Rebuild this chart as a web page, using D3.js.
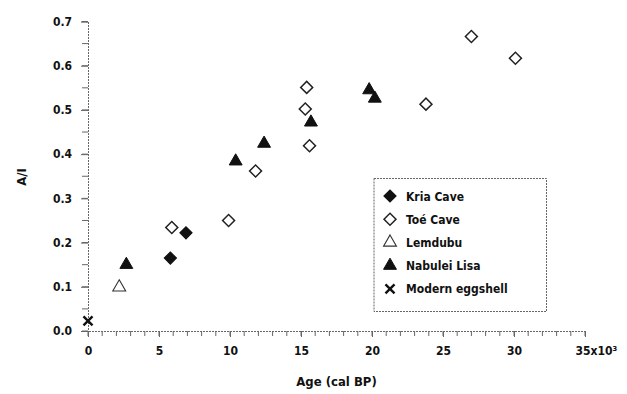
<!DOCTYPE html>
<html>
<head>
<meta charset="utf-8">
<script src="https://cdn.jsdelivr.net/npm/d3@7/dist/d3.min.js"></script>
<style>
  html, body { margin: 0; padding: 0; background: #fff; }
  svg text { font-family: "Liberation Sans Narrow", "DejaVu Sans", sans-serif; font-stretch: condensed; fill: #111; }
</style>
</head>
<body>
<svg id="chart" width="627" height="394"></svg>
<script>
// A/I ratios of eggshell against calibrated age (ka cal BP)
const kriaAge = [5.8, 6.9];
const kriaAI = [0.165, 0.222];

const toeAge = [5.9, 9.9, 11.8, 15.4, 15.3, 15.6, 27.0, 30.1, 23.8];
const toeAI = [0.234, 0.250, 0.362, 0.551, 0.502, 0.419, 0.666, 0.617, 0.513];

const lemdubuAge = [2.2];
const lemdubuAI = [0.099];

const nabuleiAge = [2.7, 10.4, 12.4, 15.7, 19.8, 20.2];
const nabuleiAI = [0.150, 0.384, 0.424, 0.472, 0.545, 0.526];

const modernAge = [0];
const modernAI = [0.023];

const seriesNames = ["Kria Cave", "Toé Cave", "Lemdubu", "Nabulei Lisa", "Modern eggshell"];
const xTickValues = [0, 5, 10, 15, 20, 25, 30, 35];
const yTickValues = [0.0, 0.1, 0.2, 0.3, 0.4, 0.5, 0.6, 0.7];

const svg = d3.select("#chart");
const x = d3.scaleLinear().domain([0, 35]).range([88, 585]);
const y = d3.scaleLinear().domain([0, 0.7]).range([331, 21.5]);

const axisColor = "#666";

// minor ticks
const g = svg.append("g");
g.selectAll(".xminor").data(d3.range(0, 36, 1)).join("line")
  .attr("x1", d => x(d)).attr("x2", d => x(d))
  .attr("y1", y(0)).attr("y2", y(0) + 5)
  .attr("stroke", axisColor).attr("stroke-width", 1);
g.selectAll(".yminor").data(d3.range(0, 0.701, 0.05)).join("line")
  .attr("x1", x(0) - 6).attr("x2", x(0))
  .attr("y1", d => y(d)).attr("y2", d => y(d))
  .attr("stroke", axisColor).attr("stroke-width", 1);

// x axis
const xAxis = d3.axisBottom(x).tickValues(xTickValues)
  .tickFormat(d => d === 35 ? "35x10³" : String(d)).tickSize(6).tickPadding(9);
const gx = svg.append("g").attr("transform", `translate(0,${y(0)})`).call(xAxis);
gx.select(".domain").attr("stroke", axisColor).attr("stroke-dasharray", "2,1");
gx.selectAll(".tick line").attr("stroke", axisColor);
gx.selectAll(".tick text").attr("font-size", 12).attr("font-weight", "bold").attr("fill", "#111");
gx.selectAll(".tick text").filter(d => d === 35).attr("text-anchor", "start").attr("dx", "-10");

// y axis
const yAxis = d3.axisLeft(y).tickValues(yTickValues).tickFormat(d3.format(".1f")).tickSize(7).tickPadding(9);
const gy = svg.append("g").attr("transform", `translate(${x(0)},0)`).call(yAxis);
gy.select(".domain").attr("stroke", axisColor).attr("stroke-dasharray", "2,1");
gy.selectAll(".tick line").attr("stroke", axisColor);
gy.selectAll(".tick text").attr("font-size", 12).attr("font-weight", "bold").attr("fill", "#111");

// axis titles
svg.append("text").attr("x", (x(0) + x(35)) / 2).attr("y", 386)
  .attr("text-anchor", "middle").attr("font-size", 13).attr("font-weight", "bold")
  .text("Age (cal BP)");
svg.append("text").attr("transform", `translate(26,177) rotate(-90)`)
  .attr("text-anchor", "middle").attr("font-size", 13).attr("font-weight", "bold")
  .text("A/I");

// marker shapes: diamonds are squares turned 45 degrees
const square = d3.symbol().type(d3.symbolSquare).size(72);
const triangle = d3.symbol().type(d3.symbolTriangle).size(72);
const cross = d3.symbol().type(d3.symbolTimes).size(55);

const styles = {
  kria: { path: square, rot: 45, fill: "#111", stroke: "#111", sw: 1.2 },
  toe: { path: square, rot: 45, fill: "#fff", stroke: "#222", sw: 1.5 },
  lemdubu: { path: triangle, rot: 0, fill: "#fff", stroke: "#333", sw: 1.1 },
  nabulei: { path: triangle, rot: 0, fill: "#111", stroke: "#111", sw: 1 },
  modern: { path: cross, rot: 0, fill: "none", stroke: "#111", sw: 2.4 }
};

function plot(ages, ratios, s) {
  svg.append("g").selectAll("path").data(d3.zip(ages, ratios)).join("path")
    .attr("transform", d => `translate(${x(d[0])},${y(d[1])}) rotate(${s.rot})`)
    .attr("d", s.path)
    .attr("fill", s.fill).attr("stroke", s.stroke).attr("stroke-width", s.sw);
}
plot(toeAge, toeAI, styles.toe);
plot(kriaAge, kriaAI, styles.kria);
plot(lemdubuAge, lemdubuAI, styles.lemdubu);
plot(nabuleiAge, nabuleiAI, styles.nabulei);
plot(modernAge, modernAI, styles.modern);

// legend
const legend = svg.append("g");
legend.append("rect").attr("x", 374).attr("y", 178.5).attr("width", 172.5).attr("height", 133)
  .attr("fill", "#fff").attr("stroke", "#666").attr("stroke-dasharray", "2,1");
const legendStyles = [styles.kria, styles.toe, styles.lemdubu, styles.nabulei, styles.modern];
seriesNames.forEach((name, i) => {
  const yy = 196 + i * 23.2;
  const s = legendStyles[i];
  legend.append("path").attr("transform", `translate(390,${yy}) rotate(${s.rot})`)
    .attr("d", s.path).attr("fill", s.fill).attr("stroke", s.stroke).attr("stroke-width", s.sw);
  legend.append("text").attr("x", 406).attr("y", yy + 4.5)
    .attr("font-size", 12).attr("font-weight", "bold").text(name);
});
</script>
</body>
</html>
